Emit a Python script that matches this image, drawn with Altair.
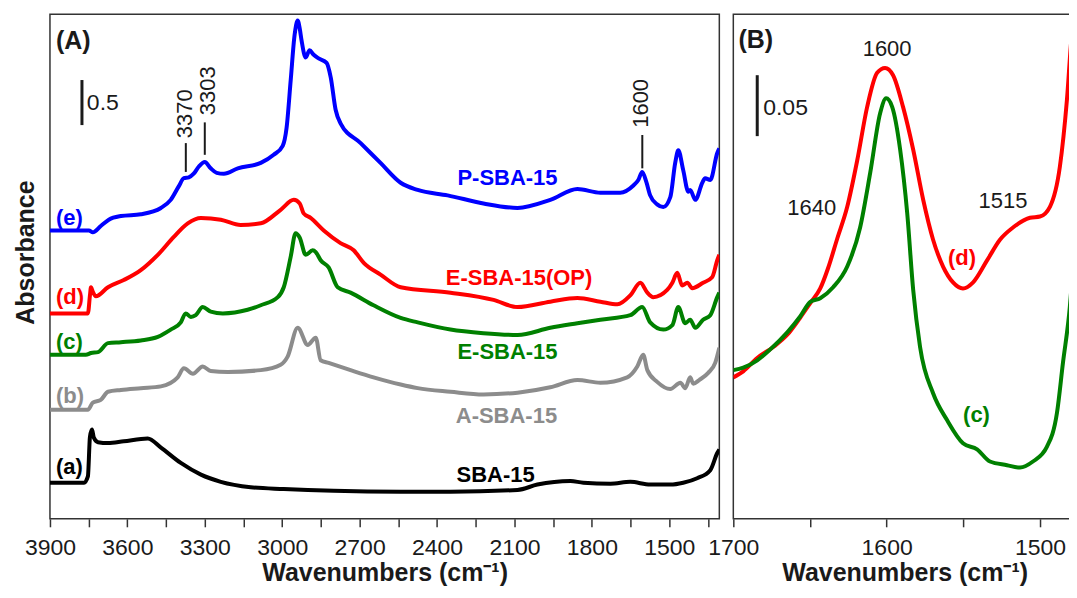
import altair as alt
import pandas as pd

# ---------------- data ----------------
# Panel (A): wavenumber (cm-1) and stacked absorbance
e_wn = [3900, 3749, 3734, 3703, 3672, 3625, 3548, 3470, 3432, 3401, 3381, 3362, 3343, 3323, 3300, 3277, 3254, 3226, 3172, 3083,
        3033, 2998, 2983, 2967, 2952, 2940, 2932, 2925, 2909, 2894, 2878, 2859, 2828, 2812, 2793, 2774, 2696, 2619, 2541, 2475,
        2359, 2220, 2088, 1961, 1856, 1767, 1690, 1639, 1620, 1605, 1589, 1574, 1547, 1523, 1496, 1477, 1465, 1446, 1426, 1419,
        1399, 1372, 1361, 1341, 1314, 1306]
e_ab = [3.20, 3.20, 3.18, 3.25, 3.32, 3.36, 3.38, 3.45, 3.54, 3.69, 3.78, 3.79, 3.83, 3.91, 3.96, 3.89, 3.84, 3.83, 3.89, 3.95,
        4.04, 4.14, 4.34, 4.87, 5.37, 5.53, 5.44, 5.31, 5.12, 5.20, 5.15, 5.11, 5.06, 4.90, 4.54, 4.39, 4.17, 3.95, 3.73, 3.65,
        3.59, 3.50, 3.45, 3.54, 3.66, 3.62, 3.62, 3.70, 3.76, 3.85, 3.74, 3.59, 3.49, 3.46, 3.57, 3.95, 4.09, 3.87, 3.63, 3.65,
        3.54, 3.73, 3.78, 3.76, 4.06, 4.11]

d_wn = [3900, 3753, 3745, 3741, 3734, 3722, 3675, 3614, 3548, 3482, 3420, 3366, 3315, 3238, 3161, 3083, 3006, 2955, 2932, 2917,
        2890, 2839, 2774, 2723, 2684, 2619, 2541, 2348, 2181, 2088, 1961, 1856, 1767, 1701, 1651, 1612, 1585, 1562, 1508, 1488,
        1469, 1450, 1430, 1411, 1369, 1334, 1314, 1306]
d_ab = [2.28, 2.28, 2.48, 2.57, 2.52, 2.47, 2.57, 2.65, 2.76, 2.93, 3.13, 3.28, 3.34, 3.32, 3.26, 3.28, 3.43, 3.54, 3.50, 3.39,
        3.34, 3.20, 3.06, 2.98, 2.84, 2.71, 2.57, 2.51, 2.43, 2.35, 2.41, 2.45, 2.41, 2.38, 2.48, 2.62, 2.51, 2.46, 2.54, 2.62,
        2.73, 2.59, 2.62, 2.56, 2.62, 2.68, 2.87, 2.93]

c_wn = [3900, 3761, 3741, 3714, 3675, 3625, 3548, 3482, 3432, 3393, 3374, 3354, 3335, 3308, 3277, 3230, 3134, 3083, 3017, 2994,
        2967, 2948, 2932, 2909, 2882, 2870, 2851, 2820, 2785, 2735, 2646, 2541, 2475, 2348, 2220, 2088, 1961, 1856, 1767, 1651,
        1605, 1574, 1523, 1488, 1465, 1438, 1419, 1399, 1369, 1341, 1314, 1306]
c_ab = [1.82, 1.82, 1.84, 1.85, 1.95, 1.96, 1.98, 2.02, 2.10, 2.18, 2.28, 2.24, 2.26, 2.35, 2.30, 2.28, 2.32, 2.37, 2.46, 2.57,
        2.91, 3.17, 3.12, 2.93, 2.98, 2.96, 2.87, 2.79, 2.57, 2.51, 2.37, 2.23, 2.18, 2.10, 2.06, 2.04, 2.12, 2.17, 2.21, 2.26,
        2.35, 2.18, 2.10, 2.15, 2.35, 2.17, 2.21, 2.12, 2.21, 2.26, 2.46, 2.51]

b_wn = [3900, 3753, 3734, 3703, 3675, 3625, 3548, 3470, 3405, 3381, 3346, 3308, 3277, 3211, 3083, 3006, 2979, 2940, 2901, 2870,
        2851, 2820, 2735, 2646, 2541, 2475, 2348, 2220, 2088, 1961, 1856, 1767, 1663, 1624, 1601, 1585, 1547, 1496, 1457, 1438,
        1419, 1407, 1384, 1349, 1322, 1306]
b_ab = [1.21, 1.21, 1.29, 1.32, 1.41, 1.43, 1.45, 1.47, 1.57, 1.67, 1.61, 1.69, 1.64, 1.63, 1.65, 1.71, 1.80, 2.12, 1.93, 2.01,
        1.76, 1.73, 1.65, 1.57, 1.49, 1.45, 1.41, 1.38, 1.40, 1.46, 1.54, 1.51, 1.57, 1.69, 1.82, 1.65, 1.52, 1.44, 1.51, 1.45,
        1.57, 1.50, 1.54, 1.62, 1.73, 1.90]

a_wn = [3900, 3768, 3753, 3745, 3737, 3730, 3714, 3675, 3614, 3521, 3470, 3393, 3315, 3238, 3122, 2994, 2801, 2541, 2348, 2088,
        2011, 1883, 1833, 1728, 1651, 1574, 1496, 1446, 1392, 1341, 1314, 1306]
a_ab = [0.40, 0.40, 0.47, 0.91, 0.99, 0.90, 0.85, 0.84, 0.86, 0.89, 0.79, 0.62, 0.49, 0.41, 0.35, 0.33, 0.31, 0.30, 0.30, 0.32,
        0.38, 0.42, 0.40, 0.39, 0.41, 0.38, 0.38, 0.40, 0.45, 0.54, 0.73, 0.77]

# Panel (B): zoom 1700-1476 cm-1
dB_wn = [1700.0, 1693.5, 1684.4, 1673.9, 1664.8, 1656.4, 1649.8, 1643.3, 1638.1, 1632.2, 1625.7, 1619.2, 1612.7, 1606.2,
         1601.0, 1595.8, 1589.3, 1582.7, 1576.2, 1569.7, 1563.2, 1556.7, 1550.2, 1543.6, 1534.5, 1526.1, 1517.6, 1506.5,
         1500.0, 1493.5, 1487.0, 1482.4, 1479.2, 1477.2, 1476.0]
dB_ab = [0.116, 0.121, 0.132, 0.141, 0.151, 0.165, 0.177, 0.189, 0.206, 0.230, 0.256, 0.294, 0.338, 0.366,
         0.370, 0.364, 0.338, 0.303, 0.262, 0.229, 0.207, 0.194, 0.189, 0.194, 0.212, 0.229, 0.239, 0.247,
         0.248, 0.256, 0.289, 0.344, 0.398, 0.415, 0.430]

cB_wn = [1700.0, 1693.5, 1684.4, 1675.9, 1664.8, 1656.4, 1649.8, 1643.3, 1634.9, 1625.7, 1617.3, 1610.7, 1604.2, 1600.3,
         1596.4, 1591.2, 1586.6, 1582.7, 1578.2, 1569.7, 1560.6, 1550.2, 1541.0, 1532.6, 1521.5, 1513.0, 1504.6, 1495.5,
         1488.9, 1485.0, 1480.5, 1476.0]
cB_ab = [0.122, 0.124, 0.130, 0.139, 0.153, 0.166, 0.178, 0.181, 0.190, 0.207, 0.239, 0.284, 0.333, 0.345,
         0.338, 0.303, 0.251, 0.188, 0.141, 0.103, 0.081, 0.062, 0.057, 0.047, 0.044, 0.042, 0.047, 0.059,
         0.087, 0.128, 0.174, 0.255]

ticksA = [3900, 3750, 3600, 3450, 3300, 3150, 3000, 2850, 2700, 2550, 2400, 2250, 2100, 1950, 1800, 1650, 1500, 1350]
ticksB = [1700, 1650, 1600, 1550, 1500]

# ---------------- styling ----------------
FONT = "Liberation Sans"
BLUE, RED, GREEN, GRAY, BLACK = "#0000ff", "#ff0000", "#008000", "#8c8c8c", "#000000"
INK = "#1a1a1a"

xA_scale = alt.Scale(domain=[3900, 1306], nice=False, zero=False)
yA_scale = alt.Scale(domain=[0, 5.6], nice=False, zero=False)
xB_scale = alt.Scale(domain=[1700, 1476.5], nice=False, zero=False)
yB_scale = alt.Scale(domain=[0, 0.414], nice=False, zero=False)

axis_common = dict(
    grid=False, domain=False, tickSize=8, tickWidth=1.5, tickColor="#333333",
    labelFont=FONT, labelFontSize=23, labelColor=INK, labelPadding=10,
    labelFlush=False, labelOverlap=False, format="d",
    title="Wavenumbers (cm\u207b\u00b9)", titleFont=FONT, titleFontSize=25,
    titleFontWeight="bold", titleColor=INK, titlePadding=1,
)
axA = alt.Axis(values=ticksA, labelExpr="datum.value % 300 == 0 ? datum.label : ''", **axis_common)
axB = alt.Axis(values=ticksB, labelExpr="datum.value % 100 == 0 ? datum.label : ''", **axis_common)
yA_axis = alt.Axis(title="Absorbance", labels=False, ticks=False, domain=False, grid=False,
                   titleFont=FONT, titleFontSize=25, titleFontWeight="bold", titleColor=INK,
                   titlePadding=11, minExtent=0, titleY=238)

XA = alt.X("wn:Q", scale=xA_scale, axis=axA)
YA = alt.Y("ab:Q", scale=yA_scale, axis=yA_axis)
XB = alt.X("wn:Q", scale=xB_scale, axis=axB)
YB = alt.Y("ab:Q", scale=yB_scale, axis=None)


def line(wn, ab, color, X, Y):
    df = pd.DataFrame({"wn": wn, "ab": ab})
    return alt.Chart(df).mark_line(color=color, strokeWidth=4, interpolate="monotone", clip=True).encode(x=X, y=Y)


def txt(wn, ab, label, X, Y, **kw):
    df = pd.DataFrame({"wn": [wn], "ab": [ab], "label": [label]})
    return alt.Chart(df).mark_text(font=FONT, **kw).encode(x=X, y=Y, text="label:N")


def bar(wn, ab, ab2, X, Y, width):
    df = pd.DataFrame({"wn": [wn], "ab": [ab], "ab2": [ab2]})
    return alt.Chart(df).mark_rule(color=INK, strokeWidth=width).encode(x=X, y=Y, y2="ab2:Q")


# ---------------- panel A ----------------
layersA = [
    line(a_wn, a_ab, BLACK, XA, YA),
    line(b_wn, b_ab, GRAY, XA, YA),
    line(c_wn, c_ab, GREEN, XA, YA),
    line(d_wn, d_ab, RED, XA, YA),
    line(e_wn, e_ab, BLUE, XA, YA),
    txt(3877, 5.22, "(A)", XA, YA, fontSize=25, fontWeight="bold", align="left", baseline="alphabetic", color=INK),
    bar(3776, 4.37, 4.87, XA, YA, 3),
    txt(3757, 4.535, "0.5", XA, YA, fontSize=23, align="left", baseline="alphabetic", color=INK),
    bar(3373.5, 3.85, 4.17, XA, YA, 2),
    bar(3300, 4.04, 4.40, XA, YA, 2),
    bar(1604.5, 3.89, 4.26, XA, YA, 2),
    txt(3377, 4.225, "3370", XA, YA, fontSize=22, angle=270, align="left", baseline="middle", color=INK),
    txt(3288, 4.48, "3303", XA, YA, fontSize=22, angle=270, align="left", baseline="middle", color=INK),
    txt(1608, 4.34, "1600", XA, YA, fontSize=22, angle=270, align="left", baseline="middle", color=INK),
    txt(3877, 3.34, "(e)", XA, YA, fontSize=22, fontWeight="bold", align="left", baseline="middle", color=BLUE),
    txt(3877, 2.46, "(d)", XA, YA, fontSize=22, fontWeight="bold", align="left", baseline="middle", color=RED),
    txt(3877, 1.96, "(c)", XA, YA, fontSize=22, fontWeight="bold", align="left", baseline="middle", color=GREEN),
    txt(3877, 1.36, "(b)", XA, YA, fontSize=22, fontWeight="bold", align="left", baseline="middle", color=GRAY),
    txt(3877, 0.57, "(a)", XA, YA, fontSize=22, fontWeight="bold", align="left", baseline="middle", color=BLACK),
    txt(2127, 3.71, "P-SBA-15", XA, YA, fontSize=22, fontWeight="bold", align="center", baseline="alphabetic", color=BLUE),
    txt(2082, 2.59, "E-SBA-15(OP)", XA, YA, fontSize=22, fontWeight="bold", align="center", baseline="alphabetic", color=RED),
    txt(2127, 1.77, "E-SBA-15", XA, YA, fontSize=22, fontWeight="bold", align="center", baseline="alphabetic", color=GREEN),
    txt(2131, 1.06, "A-SBA-15", XA, YA, fontSize=22, fontWeight="bold", align="center", baseline="alphabetic", color=GRAY),
    txt(2173, 0.41, "SBA-15", XA, YA, fontSize=22, fontWeight="bold", align="center", baseline="alphabetic", color=BLACK),
]
panelA = alt.layer(*layersA).properties(width=670, height=505)

# ---------------- panel B ----------------
layersB = [
    line(dB_wn, dB_ab, RED, XB, YB),
    line(cB_wn, cB_ab, GREEN, XB, YB),
    txt(1696.7, 0.386, "(B)", XB, YB, fontSize=25, fontWeight="bold", align="left", baseline="alphabetic", color=INK),
    bar(1684.4, 0.314, 0.364, XB, YB, 3),
    txt(1680.5, 0.331, "0.05", XB, YB, fontSize=23, align="left", baseline="alphabetic", color=INK),
    txt(1599.7, 0.380, "1600", XB, YB, fontSize=22, align="center", baseline="alphabetic", color=INK),
    txt(1648.9, 0.249, "1640", XB, YB, fontSize=22, align="center", baseline="alphabetic", color=INK),
    txt(1524.1, 0.255, "1515", XB, YB, fontSize=22, align="center", baseline="alphabetic", color=INK),
    txt(1550.8, 0.208, "(d)", XB, YB, fontSize=22, fontWeight="bold", align="center", baseline="alphabetic", color=RED),
    txt(1541.4, 0.0795, "(c)", XB, YB, fontSize=22, fontWeight="bold", align="center", baseline="alphabetic", color=GREEN),
]
panelB = alt.layer(*layersB).properties(width=343, height=505)

chart = (
    alt.hconcat(panelA, panelB, spacing=14, bounds="flush")
    .properties(padding={"left": 5, "top": 5, "right": -8, "bottom": 0}, background="white")
    .configure_view(stroke="#333333", strokeWidth=1.5)
)

chart.save("out.html", embed_options={"renderer": "svg", "actions": False})
